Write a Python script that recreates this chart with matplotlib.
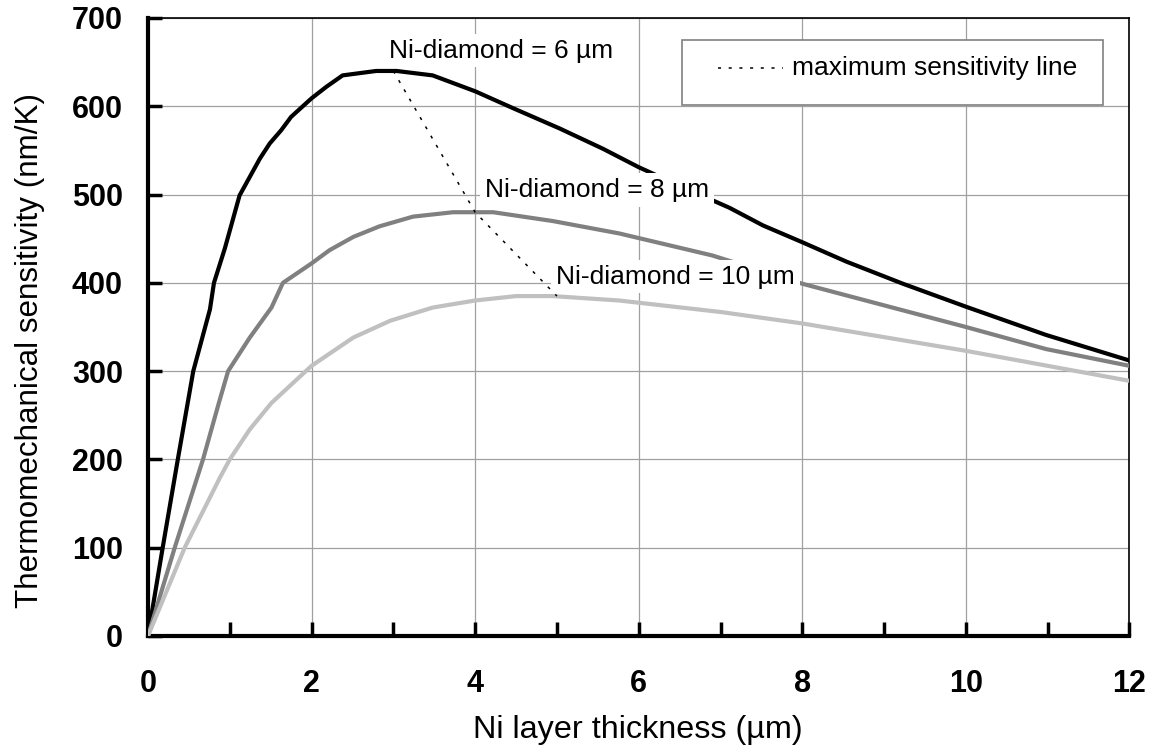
import numpy as np
import matplotlib
matplotlib.use('Agg')
import matplotlib.pyplot as plt
from matplotlib.ticker import MultipleLocator
from matplotlib.patches import Rectangle
from matplotlib.lines import Line2D

plt.rcParams['font.family'] = ['Liberation Sans', 'DejaVu Sans']

# Ni-diamond = 6 um (black)
x_6um = [0, 0.18, 0.365, 0.554, 0.758, 0.807, 0.94, 1.12, 1.37, 1.49, 1.63, 1.75,
         2.0, 2.18, 2.38, 2.79, 3.04, 3.48, 4.0, 4.46, 5.03, 5.56, 6.0, 6.5,
         7.11, 7.52, 8.0, 8.54, 9.23, 10.0, 10.98, 12.0]
y_6um = [0, 100, 200, 300, 370, 400, 439, 499, 541, 558, 573, 588,
         609, 622, 635, 640, 640, 635, 617, 598, 575, 552, 531, 510,
         485, 465, 446, 424, 399, 373, 341, 312]

# Ni-diamond = 8 um (grey)
x_8um = [0, 0.327, 0.673, 0.87, 0.98, 1.245, 1.51, 1.65, 2.0, 2.22, 2.51, 2.83,
         3.24, 3.73, 4.22, 4.95, 5.76, 6.9, 8.0, 10.0, 10.98, 12.0]
y_8um = [0, 100, 200, 265, 300, 338, 372, 400, 422, 437, 452, 464,
         475, 480, 480, 470, 456, 431, 399, 350, 325, 306]

# Ni-diamond = 10 um (light grey)
x_10um = [0, 0.449, 0.878, 1.0, 1.245, 1.51, 2.0, 2.51, 2.96, 3.48, 4.0, 4.5,
          4.95, 5.76, 7.0, 8.0, 10.0, 12.0]
y_10um = [0, 100, 179, 200, 234, 264, 306, 338, 357, 372, 380, 385,
          385, 380, 367, 354, 323, 289]

# maximum sensitivity line through the peaks
x_max = [3.0, 4.0, 5.0]
y_max = [640, 480, 385]

labels = ['Ni-diamond = 6 µm', 'Ni-diamond = 8 µm', 'Ni-diamond = 10 µm']
label_pos = [(4.32, 663), (5.49, 505), (6.45, 407)]

fig = plt.figure(figsize=(11.55, 7.53), dpi=100)
ax = fig.add_axes([0.1281, 0.1554, 0.8498, 0.8207])

ax.plot(x_6um, y_6um, color='black', lw=3, zorder=3)
ax.plot(x_8um, y_8um, color='#808080', lw=3, zorder=3)
ax.plot(x_10um, y_10um, color='#c0c0c0', lw=3, zorder=3)
ax.plot(x_max, y_max, color='black', lw=1.1, ls=(0, (2, 5)), zorder=4)

for txt, (tx, ty) in zip(labels, label_pos):
    ax.text(tx, ty, txt, fontsize=19, ha='center', va='center', zorder=5,
            bbox=dict(facecolor='white', edgecolor='none', pad=3.5))

ax.set_xlim(0, 12)
ax.set_ylim(0, 700)
ax.xaxis.set_major_locator(MultipleLocator(2))
ax.xaxis.set_minor_locator(MultipleLocator(1))
ax.yaxis.set_major_locator(MultipleLocator(100))

ax.grid(True, which='major', color='#a0a0a0', lw=0.9)
ax.set_axisbelow(True)

ax.tick_params(axis='both', which='both', direction='in', length=10, width=2.5,
               labelsize=22)
ax.tick_params(axis='x', which='both', pad=24)
ax.tick_params(axis='y', which='both', pad=18)
for lab in ax.get_xticklabels() + ax.get_yticklabels():
    lab.set_fontweight('bold')

ax.spines['left'].set_linewidth(3)
ax.spines['bottom'].set_linewidth(3)
ax.spines['top'].set_linewidth(1.2)
ax.spines['right'].set_linewidth(1.2)

# legend box drawn by hand to match the original padding
ax.add_patch(Rectangle((0.5438, 0.8592), 0.9727 - 0.5438, 0.9644 - 0.8592,
                       transform=ax.transAxes, facecolor='white', edgecolor='#808080',
                       lw=1.2, zorder=6))
ax.add_line(Line2D([0.5807, 0.6470], [0.9196, 0.9196], transform=ax.transAxes,
                   color='black', lw=1.1, ls=(0, (2, 5)), zorder=7))
ax.text(0.6558, 0.9078, 'maximum sensitivity line', transform=ax.transAxes,
        fontsize=19, ha='left', va='baseline', zorder=7)

fig.text(638 / 1155, 1 - 738 / 753, 'Ni layer thickness (µm)', fontsize=23.3,
         ha='center', va='baseline')
fig.text(30 / 1155, 1 - 350 / 753, 'Thermomechanical sensitivity (nm/K)', fontsize=22.6,
         ha='center', va='center', rotation=90)

fig.savefig('out.png', dpi=100)
